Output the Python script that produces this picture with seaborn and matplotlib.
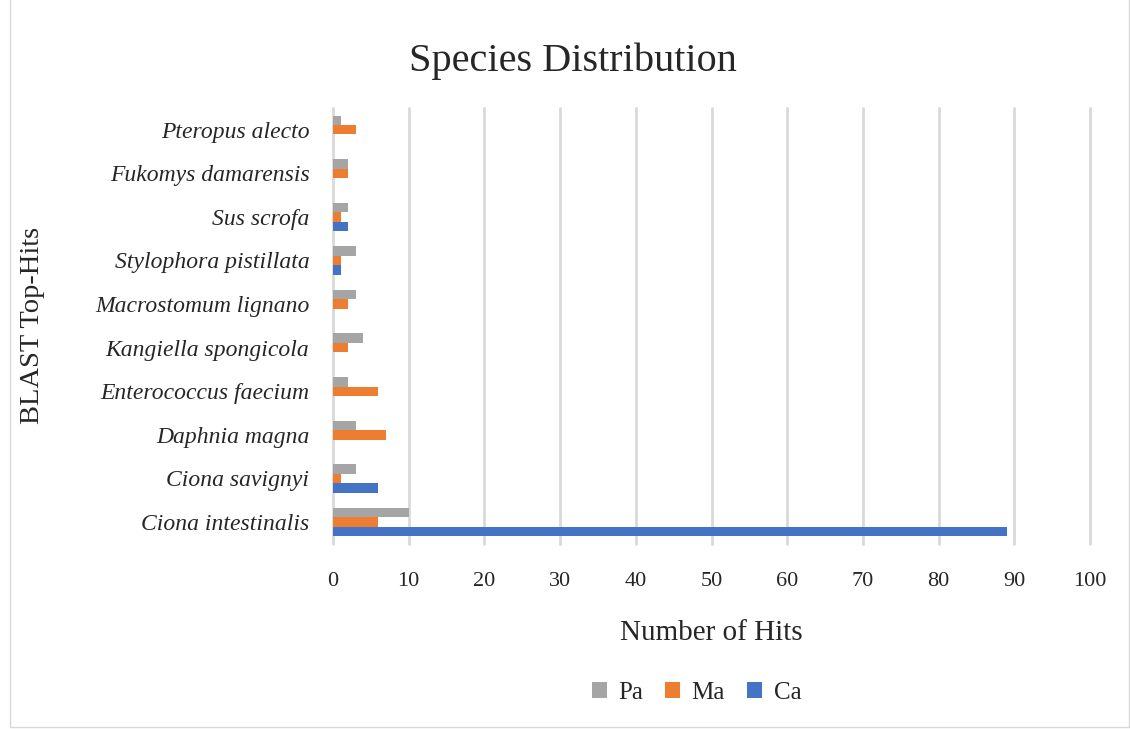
import pandas as pd
import matplotlib.pyplot as plt
import seaborn as sns
from matplotlib.patches import Rectangle

species = ["Pteropus alecto", "Fukomys damarensis", "Sus scrofa", "Stylophora pistillata",
           "Macrostomum lignano", "Kangiella spongicola", "Enterococcus faecium",
           "Daphnia magna", "Ciona savignyi", "Ciona intestinalis"]
pa = [1, 2, 2, 3, 3, 4, 2, 3, 3, 10]
ma = [3, 2, 1, 1, 2, 2, 6, 7, 1, 6]
ca = [0, 0, 2, 1, 0, 0, 0, 0, 6, 89]
groups = ["Pa", "Ma", "Ca"]
colors = ["#A5A5A5", "#ED7D31", "#4472C4"]

rows = []
for g, vals in zip(groups, [pa, ma, ca]):
    for s, v in zip(species, vals):
        rows.append({"Species": s, "Group": g, "Hits": v})
df = pd.DataFrame(rows)

sns.set_style("white")
plt.rcParams["font.family"] = ["Liberation Serif", "DejaVu Serif"]

fig = plt.figure(figsize=(11.3, 7.29), dpi=100)
ax = fig.add_axes([0.2947, 0.254, 0.67, 0.598])
sns.barplot(data=df, y="Species", x="Hits", hue="Group", hue_order=groups,
            order=species, palette=colors, orient="h", width=0.65,
            saturation=1, linewidth=0, ax=ax)

ax.set_xlim(0, 100)
ax.set_xticks(range(0, 101, 10))
ax.grid(axis="x", color="#D9D9D9", linewidth=2)
for gl in ax.get_xgridlines():
    gl.set_clip_on(False)
ax.set_axisbelow(True)
for sp in ax.spines.values():
    sp.set_visible(False)
ax.tick_params(axis="x", labelsize=16, pad=20, length=0)
ax.tick_params(axis="y", labelsize=17, length=0, pad=17)
for lbl in ax.get_yticklabels():
    lbl.set_fontstyle("italic")

ax.set_xlabel("Number of Hits", fontsize=21, labelpad=21)
ax.set_ylabel("BLAST Top-Hits", fontsize=20.5, labelpad=36)
fig.text(0.507, 0.916, "Species Distribution", fontsize=29, ha="center", va="center")

ax.legend(loc="upper center", bbox_to_anchor=(0.48, -0.265), ncol=3, frameon=False,
          fontsize=18, handlelength=0.6, handleheight=0.6, columnspacing=0.9,
          handletextpad=0.45)

fig.patches.append(Rectangle((0.009, 0.003), 0.99, 1.2, transform=fig.transFigure,
                             fill=False, edgecolor="#D9D9D9", linewidth=1))

fig.savefig("out.png", dpi=100)
